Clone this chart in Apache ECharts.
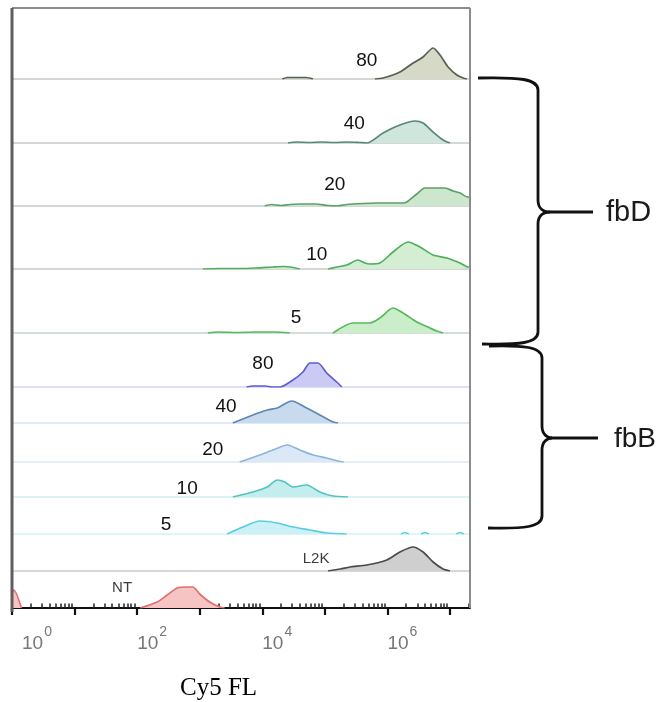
<!DOCTYPE html>
<html>
<head>
<meta charset="utf-8">
<script src="https://cdn.jsdelivr.net/npm/echarts@6/dist/echarts.min.js"></script>
<style>
  html, body { margin: 0; padding: 0; background: #ffffff; }
  #chart { width: 658px; height: 702px; }
</style>
</head>
<body>
<div id="chart"></div>
<script>
// Stacked Cy5 fluorescence histograms (one row per sample).
// x values are log10(Cy5 FL), y values are event counts of each row.

const rowTags = ['80', '40', '20', '10', '5', '80', '40', '20', '10', '5', 'L2K', 'NT'];

// where each row's tag sits: log10(Cy5 FL) and count level
const tagLogFL = [5.67, 5.47, 5.16, 4.87, 4.54, 4.01, 3.42, 3.21, 2.80, 2.46, 4.86, 1.76];
const tagCount = [18, 19, 21, 14, 15, 23, 16, 12, 8, 9, 12, 20];

// [log10(Cy5 FL), count]; null count = no events
const fbD80 = [[4.32, 0], [4.40, 1.5], [4.70, 1.5], [4.81, 0], [4.9, null],
  [5.80, 0], [5.93, 1], [6.20, 7], [6.41, 16], [6.57, 22], [6.73, 31], [6.84, 24], [6.97, 12], [7.11, 4], [7.21, 1], [7.27, 0]];
const fbD40 = [[4.41, 0], [4.55, 1], [4.75, 0.5], [4.95, 1], [5.15, 0.5], [5.35, 1], [5.55, 0.5],
  [5.67, 0], [5.93, 10], [6.20, 18], [6.44, 22], [6.57, 20], [6.73, 11], [6.89, 3], [7.0, 0]];
const fbD20 = [[4.04, 0], [4.15, 1.5], [4.30, 0.5], [4.44, 1.5], [4.60, 2], [4.85, 2], [5.05, 0.5], [5.20, 0],
  [5.35, 1.5], [5.60, 2.5], [5.85, 3], [6.10, 3], [6.25, 3], [6.31, 4], [6.47, 12], [6.60, 18], [6.79, 18],
  [6.92, 18], [7.05, 15], [7.16, 13], [7.28, 9], [7.32, 9]];
const fbD10 = [[3.05, 0], [3.30, 0.5], [3.60, 0.5], [3.90, 1], [4.17, 2], [4.35, 2.5], [4.49, 1.5], [4.60, 0], [4.7, null],
  [5.05, 0], [5.20, 2], [5.35, 4], [5.53, 9], [5.64, 6], [5.72, 5], [5.88, 6], [6.09, 17], [6.33, 27], [6.52, 22],
  [6.73, 14], [6.95, 11], [7.16, 6], [7.29, 2], [7.32, 2]];
const fbD5 = [[3.13, 0], [3.30, 1], [3.60, 0.5], [3.90, 1], [4.20, 1], [4.44, 0], [4.5, null],
  [5.13, 0], [5.45, 10], [5.72, 10], [5.88, 15], [6.09, 25], [6.25, 20], [6.47, 11], [6.68, 5], [6.79, 2], [6.89, 0]];
const fbB80 = [[3.75, 0], [3.85, 1], [4.05, 1], [4.15, 0], [4.28, 0], [4.49, 7], [4.65, 15], [4.76, 24],
  [4.89, 24], [5.03, 14], [5.19, 5], [5.27, 0]];
const fbB40 = [[3.53, 0], [3.85, 8], [4.08, 13], [4.24, 15], [4.47, 22], [4.71, 15], [4.92, 8], [5.13, 1], [5.21, 0]];
const fbB20 = [[3.64, 0], [3.96, 7], [4.17, 12], [4.40, 17], [4.60, 12], [4.81, 7], [5.03, 4], [5.21, 1], [5.30, 0]];
const fbB10 = [[3.53, 0], [3.85, 5], [4.08, 10], [4.24, 17], [4.36, 15], [4.49, 10], [4.71, 12], [4.92, 5], [5.13, 1], [5.37, 0]];
const fbB5 = [[3.44, 0], [3.69, 7], [3.96, 13], [4.24, 11], [4.49, 7], [4.76, 4], [5.03, 1], [5.35, 0], [5.4, null],
  [6.22, 0], [6.28, 1.5], [6.34, 0], [6.4, null], [6.54, 0], [6.60, 1.5], [6.66, 0], [6.7, null],
  [7.10, 0], [7.16, 1.5], [7.22, 0]];
const L2K = [[5.05, 0], [5.25, 2], [5.40, 4], [5.67, 6], [5.99, 11], [6.20, 19], [6.41, 24], [6.57, 19], [6.73, 9], [6.89, 2], [7.0, 0]];
const NT = [[0, 14], [0.03, 18], [0.15, 0], [0.2, null],
  [2.05, 0], [2.32, 6], [2.48, 13], [2.64, 20], [2.80, 21], [2.89, 21], [3.0, 14], [3.16, 6], [3.32, 1], [3.4, 0]];

const rowData = [fbD80, fbD40, fbD20, fbD10, fbD5, fbB80, fbB40, fbB20, fbB10, fbB5, L2K, NT];

// axis: decades of Cy5 FL
const decadeTicks = [0, 1, 2, 3, 4, 5, 6, 7];
const labelledDecades = [0, 2, 4, 6];
const minorMultipliers = [2, 3, 4, 5, 6, 7, 8, 9];
const LOG_MAX = 7.32;

// ---- styling / layout ----
const lineColors = ['#55604f', '#5b8576', '#5e9f68', '#4fae5b', '#55b95d',
  '#5c5fcf', '#5f86b5', '#8db4dc', '#52c4c4', '#57cde0', '#4a4a4a', '#e06f6f'];
const fillColors = ['#d6d9c8', '#cfe6dd', '#cde7cf', '#d3eed3', '#c9eec9',
  '#cacaf4', '#c8daee', '#dae8f7', '#c4eeee', '#cbf1f7', '#cfcfcf', '#f7c4c4'];
const baseColors = ['#c6cbc6', '#c6cbc6', '#c6cbc6', '#c6cbc6', '#c6d4c6',
  '#d4d4f5', '#d5e3f1', '#dde9f6', '#d0eeee', '#d3f2f6', '#cccccc', '#111111'];

const PLOT_LEFT = 12, PLOT_RIGHT = 470, PLOT_TOP = 8;
const rowBottom = [79, 143, 206, 269, 333, 387, 423, 462, 497, 534, 571, 608];
const rowHeight = [63.5, 63.5, 63.5, 63.5, 63.5, 37, 37, 37, 37, 37, 37, 37];

const minorTicks = [];
decadeTicks.forEach(d => minorMultipliers.forEach(m => {
  const v = d + Math.log10(m);
  if (v < LOG_MAX) minorTicks.push(v);
}));

const grid = [], xAxis = [], yAxis = [], series = [];
const last = rowData.length - 1;
const tickGray = '#777777';

rowData.forEach((data, i) => {
  grid.push({
    left: PLOT_LEFT, width: PLOT_RIGHT - PLOT_LEFT,
    top: rowBottom[i] - rowHeight[i], height: rowHeight[i]
  });
  const isAxisRow = i === last;
  xAxis.push({
    gridIndex: i, type: 'value', min: 0, max: LOG_MAX,
    axisLine: { show: true, onZero: false, lineStyle: { color: baseColors[i], width: isAxisRow ? 2 : 1.5 } },
    axisTick: isAxisRow
      ? { show: true, customValues: decadeTicks, length: 7, lineStyle: { color: '#111', width: 2.2 } }
      : { show: false },
    axisLabel: isAxisRow
      ? {
          show: true, customValues: labelledDecades, align: 'left', margin: 17,
          // the first decade label sits a little inward from the frame corner
          formatter: v => (v === 0 ? '{p|}' : '') + '{b|10}{e|' + Math.round(v) + '}',
          rich: {
            p: { width: 10, lineHeight: 28 },
            b: { fontFamily: 'Liberation Sans', fontSize: 19, lineHeight: 28, verticalAlign: 'bottom', color: tickGray },
            e: { fontFamily: 'Liberation Sans', fontSize: 14, lineHeight: 14, verticalAlign: 'top', color: tickGray, padding: [0, 0, 0, 1] }
          }
        }
      : { show: false },
    splitLine: { show: false }
  });
  yAxis.push({ gridIndex: i, type: 'value', min: 0, max: rowHeight[i], show: false });

  series.push({
    type: 'line', xAxisIndex: i, yAxisIndex: i, data: data,
    smooth: 0.25, symbol: 'none', connectNulls: false, silent: true,
    lineStyle: { color: lineColors[i], width: 1.7 },
    areaStyle: { color: fillColors[i], opacity: 1 },
    z: 3
  });
  const isSmallTag = i >= 10;
  series.push({
    type: 'scatter', xAxisIndex: i, yAxisIndex: i, silent: true,
    data: [[tagLogFL[i], tagCount[i]]], symbolSize: 0,
    itemStyle: { opacity: 1, color: '#111' },
    label: {
      show: true, position: 'inside', formatter: rowTags[i],
      fontFamily: 'Liberation Sans', fontSize: isSmallTag ? 15 : 19,
      color: isSmallTag ? '#3c3c3c' : '#111111',
      textBorderWidth: 0, opacity: 1
    },
    z: 4
  });
});

// minor decade ticks on the bottom axis
xAxis.push({
  gridIndex: last, type: 'value', min: 0, max: LOG_MAX,
  axisLine: { show: false },
  axisTick: { show: true, customValues: minorTicks, length: 4.5, lineStyle: { color: '#222', width: 1.5 } },
  axisLabel: { show: false }, splitLine: { show: false }
});

// curly brace built from bezier pieces and straight runs
function brace(x0, yTop, xv, xTip, yMid, yBot, x1, xEnd) {
  const st = { stroke: '#111', lineWidth: 2.8, fill: null };
  const bz = (a, b, c, d, e, f, g, h) => ({
    type: 'bezierCurve', z: 100,
    shape: { x1: a, y1: b, cpx1: c, cpy1: d, cpx2: e, cpy2: f, x2: g, y2: h }, style: st
  });
  const ln = (a, b, c, d) => ({ type: 'line', z: 100, shape: { x1: a, y1: b, x2: c, y2: d }, style: st });
  return [
    bz(x0, yTop, xv - 18, yTop - 1, xv, yTop + 1, xv, yTop + 12),
    ln(xv, yTop + 12, xv, yMid - 12),
    bz(xv, yMid - 12, xv, yMid - 3, xv + 6, yMid, xTip, yMid),
    bz(xTip, yMid, xv + 6, yMid, xv, yMid + 3, xv, yMid + 12),
    ln(xv, yMid + 12, xv, yBot - 12),
    bz(xv, yBot - 12, xv, yBot - 1, xv - 18, yBot + 1, x1, yBot),
    ln(xTip, yMid, xEnd, yMid)
  ];
}

const graphic = [
  { type: 'line', shape: { x1: PLOT_LEFT, y1: PLOT_TOP, x2: PLOT_RIGHT, y2: PLOT_TOP }, style: { stroke: '#8c8c8c', lineWidth: 2 }, z: 100 },
  { type: 'line', shape: { x1: PLOT_RIGHT, y1: PLOT_TOP, x2: PLOT_RIGHT, y2: 608 }, style: { stroke: '#8c8c8c', lineWidth: 2 }, z: 100 },
  { type: 'line', shape: { x1: PLOT_LEFT, y1: PLOT_TOP, x2: PLOT_LEFT, y2: 612 }, style: { stroke: '#5e5e5e', lineWidth: 3 }, z: 100 },
  ...brace(478, 78, 538, 550, 212, 344, 482, 593),
  ...brace(489, 346, 542, 552, 438, 528, 488, 598),
  { type: 'text', style: { text: 'fbD', x: 606, y: 213, verticalAlign: 'middle', font: '29px "Liberation Sans"', fill: '#1a1a1a' }, z: 100 },
  { type: 'text', style: { text: 'fbB', x: 614, y: 439, verticalAlign: 'middle', font: '28px "Liberation Sans"', fill: '#1a1a1a' }, z: 100 },
  { type: 'text', style: { text: 'Cy5 FL', x: 180, y: 688, verticalAlign: 'middle', font: '25px "Liberation Serif"', fill: '#000' }, z: 100 }
];

const chart = echarts.init(document.getElementById('chart'), null, { renderer: 'canvas' });
chart.setOption({
  animation: false,
  backgroundColor: '#ffffff',
  grid, xAxis, yAxis, series, graphic
});
</script>
</body>
</html>
